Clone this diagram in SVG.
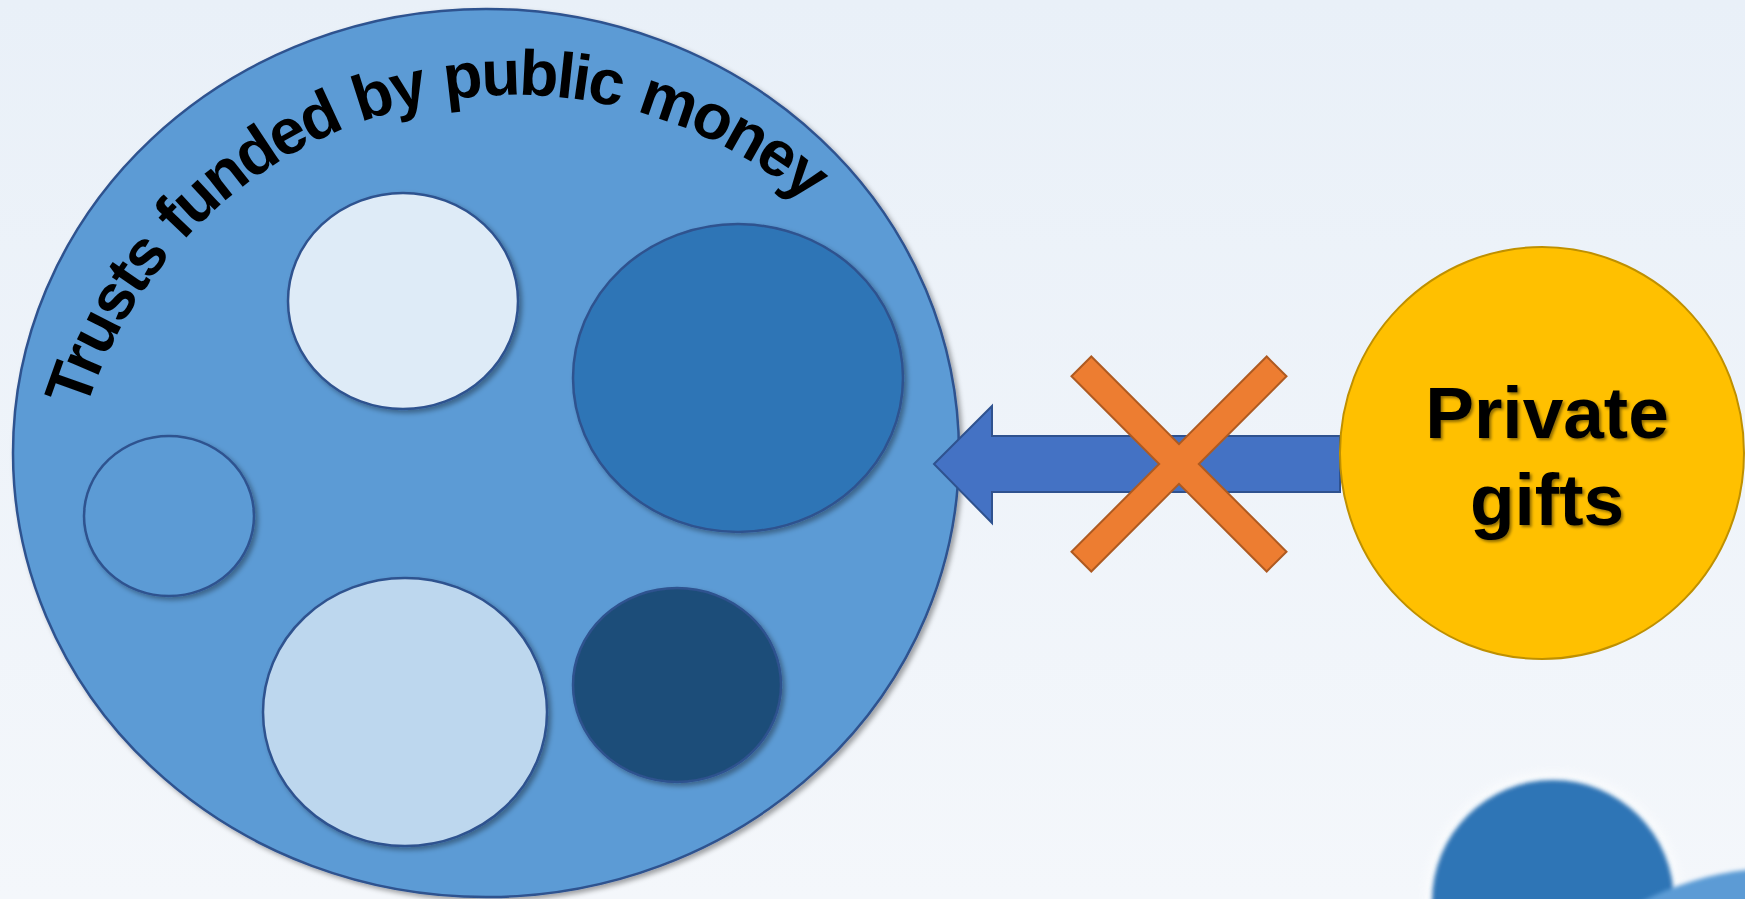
<svg xmlns="http://www.w3.org/2000/svg" width="1745" height="899" viewBox="0 0 1745 899">
<defs>
<linearGradient id="bg" x1="0" y1="0" x2="0" y2="1">
<stop offset="0" stop-color="#E9F0F8"/>
<stop offset="1" stop-color="#F4F7FB"/>
</linearGradient>
<filter id="sh" x="-10%" y="-10%" width="125%" height="125%">
<feDropShadow dx="3" dy="3" stdDeviation="2.5" flood-color="#000" flood-opacity="0.35"/>
</filter>
<filter id="tsh" x="-10%" y="-10%" width="125%" height="125%">
<feDropShadow dx="2" dy="2" stdDeviation="1.5" flood-color="#000" flood-opacity="0.45"/>
</filter>
<filter id="soft" x="-20%" y="-20%" width="140%" height="140%">
<feGaussianBlur stdDeviation="2"/>
</filter>
<filter id="glow" x="-20%" y="-20%" width="140%" height="140%">
<feGaussianBlur stdDeviation="6"/>
</filter>
<path id="arc" d="M 74.8 451.4 A 450 450 0 0 1 883.6 286.9"/>
<style>
.ell{stroke:#2F528F;stroke-width:2.5;filter:url(#sh)}
.lbl{font-family:"Liberation Sans",Arial,sans-serif;font-weight:bold;fill:#000}
</style>
</defs>
<rect width="1745" height="899" fill="url(#bg)"/>

<g id="trusts">
<ellipse cx="486" cy="453" rx="473" ry="444" fill="#5B9BD5" class="ell"/>
<text class="lbl" font-size="64" letter-spacing="-2.5" word-spacing="3"><textPath href="#arc" startOffset="43">Trusts funded by public money</textPath></text>
</g>
<g id="trust-1"><ellipse cx="403" cy="301" rx="115" ry="108" fill="#DEEBF7" class="ell"/></g>
<g id="trust-2"><ellipse cx="738" cy="378" rx="165" ry="154" fill="#2E75B6" class="ell"/></g>
<g id="trust-3"><ellipse cx="169" cy="516" rx="85" ry="80" fill="#5B9BD5" class="ell"/></g>
<g id="trust-4"><ellipse cx="405" cy="712" rx="142" ry="134" fill="#BDD7EE" class="ell"/></g>
<g id="trust-5"><ellipse cx="677" cy="685" rx="104" ry="97" fill="#1F4E79" class="ell"/></g>

<g id="connectors">
<polygon points="934,464 992,406 992,436 1340,436 1340,492 992,492 992,523" fill="#4472C4" stroke="#2F528F" stroke-width="2"/>
<polygon points="1071.5,376.3 1091.3,356.5 1179,444.2 1266.7,356.5 1286.5,376.3 1198.8,464 1286.5,551.7 1266.7,571.5 1179,483.8 1091.3,571.5 1071.5,551.7 1159.2,464" fill="#ED7D31" stroke="#AE5A21" stroke-width="2"/>
</g>

<g id="private-gifts">
<ellipse cx="1542" cy="453" rx="202" ry="206" fill="#FFC000" stroke="#BF9000" stroke-width="2"/>
<text class="lbl" font-size="73" text-anchor="middle" filter="url(#tsh)"><tspan x="1547" y="438">Private</tspan><tspan x="1547" y="525">gifts</tspan></text>
</g>

<g id="deco-1">
<circle cx="1553" cy="900" r="126" fill="#FFFFFF" opacity="0.8" filter="url(#glow)"/>
<circle cx="1553" cy="901" r="121" fill="#2E75B6" filter="url(#soft)"/>
</g>
<g id="deco-2">
<circle cx="1780" cy="1168" r="300" fill="#5B9BD5" filter="url(#soft)"/>
</g>
</svg>
